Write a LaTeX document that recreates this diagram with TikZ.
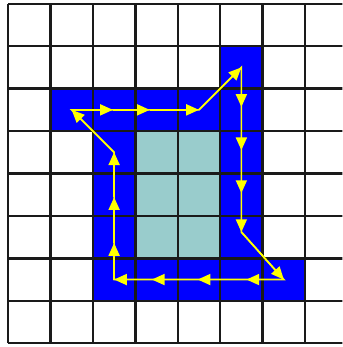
\documentclass[tikz,border=0pt]{standalone}
\usetikzlibrary{arrows.meta}
\definecolor{cGrid}{HTML}{1A1A1A}
\definecolor{cBlue}{HTML}{0000FF}
\definecolor{cTeal}{HTML}{99CCCC}
\definecolor{cPath}{HTML}{FFFF00}
\tikzset{
  >={Triangle[length=3mm, width=2.6mm]},
  gridline/.style={draw=cGrid, line width=1.6pt},
  trace/.style={draw=cPath, line width=1.1pt},
  tracearr/.style={->, draw=cPath, line width=1.1pt},
}

\begin{document}
\begin{tikzpicture}[
    cell/.style={fill=cBlue},
    inner/.style={fill=cTeal}
  ]
  \clip (-0.19,-0.09) rectangle (7.88,8.09);
  \fill[white] (-0.19,-0.09) rectangle (7.88,8.09);
  % boundary cells
  \foreach \c/\r in {5/6, 1/5,2/5,3/5,4/5,5/5, 2/4,2/3,2/2, 5/4,5/3,5/2, 2/1,3/1,4/1,5/1,6/1}
    \fill[cell] (\c,\r) rectangle ++(1,1);
  % region interior
  \fill[inner] (3,2) rectangle (5,5);
  % grid
  \foreach \x in {0,...,7} \draw[gridline] (\x,0) -- (\x,8);
  \foreach \y in {0,...,8} \draw[gridline] (0,\y) -- (8.2,\y);
  % trace corners
  \coordinate (p1) at (2.5,1.5);
  \coordinate (p2) at (2.5,4.5);
  \coordinate (p3) at (1.5,5.5);
  \coordinate (p4) at (4.5,5.5);
  \coordinate (p5) at (5.5,6.5);
  \coordinate (p6) at (5.5,2.62);
  \coordinate (p7) at (6.5,1.5);
  % arrow tips along the straight runs
  \coordinate (a1) at (2.47,5.5);
  \coordinate (a2) at (3.34,5.5);
  \coordinate (b1) at (5.5,5.57);
  \coordinate (b2) at (5.5,4.55);
  \coordinate (b3) at (5.5,3.54);
  \coordinate (c1) at (5.62,1.5);
  \coordinate (c2) at (4.47,1.5);
  \coordinate (c3) at (3.39,1.5);
  \coordinate (d1) at (2.5,2.36);
  \coordinate (d2) at (2.5,3.44);
  \draw[trace] (p1) -- (p2) -- (p3) -- (p4) -- (p5) -- (p6) -- (p7) -- cycle;
  \foreach \a/\b in {p3/a1, a1/a2, a2/p4, p4/p5, p5/b1, b1/b2, b2/b3, b3/p6,
                     p6/p7, p7/c1, c1/c2, c2/c3, c3/p1, p1/d1, d1/d2, d2/p2, p2/p3}
    \draw[tracearr] (\a) -- (\b);
\end{tikzpicture}
\end{document}
